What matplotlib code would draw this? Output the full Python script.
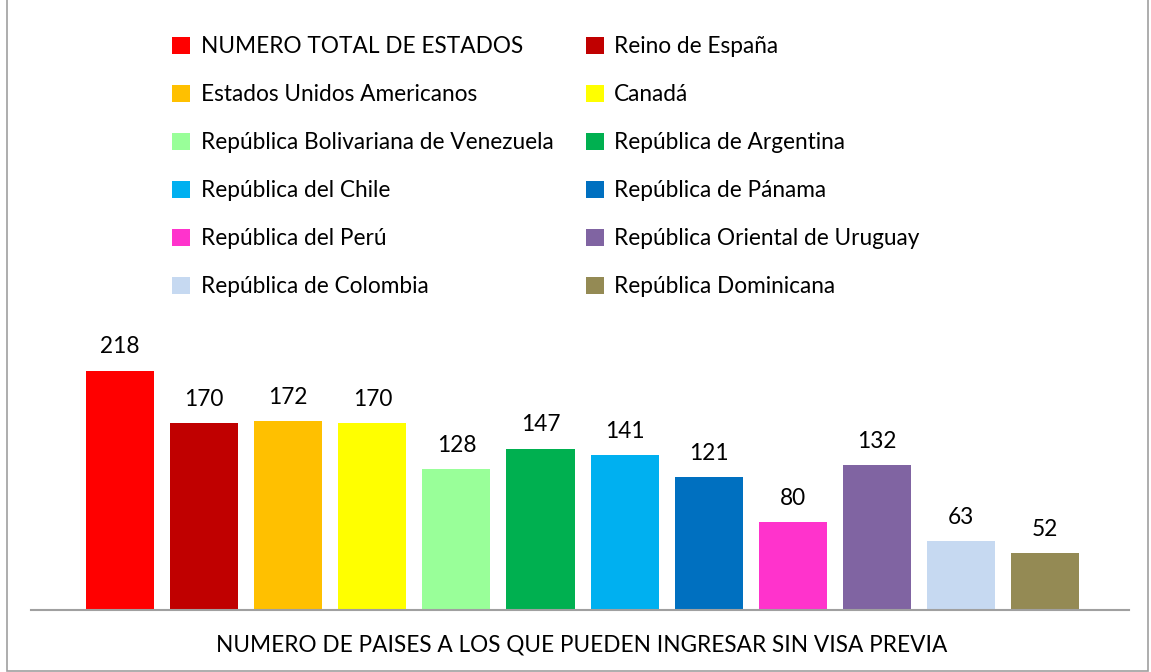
import matplotlib.pyplot as plt
from matplotlib.patches import Rectangle

# datos
paises = ["NUMERO TOTAL DE ESTADOS", "Reino de España",
          "Estados Unidos Americanos", "Canadá",
          "República Bolivariana de Venezuela", "República de Argentina",
          "República del Chile", "República de Pánama",
          "República del Perú", "República Oriental de Uruguay",
          "República de Colombia", "República Dominicana"]
valores = [218, 170, 172, 170, 128, 147, 141, 121, 80, 132, 63, 52]
colores = ["#FF0000", "#C00000", "#FFC000", "#FFFF00", "#99FF99", "#00B050",
           "#00B0F0", "#0070C0", "#FF33CC", "#8064A2", "#C6D9F1", "#948A54"]

plt.rcParams['font.family'] = ['Lato', 'DejaVu Sans']
fs = 16.3

W, H = 1151, 672
fig = plt.figure(figsize=(W / 100, H / 100), dpi=100)
ax = fig.add_axes([31 / W, 1 - 610 / H, (1129 - 31) / W, (610 - 330) / H])

x = list(range(len(valores)))
bars = ax.bar(x, valores, width=0.81, color=colores)
for xi, v in zip(x, valores):
    ax.text(xi, v + 12, str(v), ha='center', va='bottom', fontsize=fs)

ax.set_xlim(-1.06, 12.0)
ax.set_ylim(0, 255)
ax.set_yticks([])
ax.set_xticks([])
for s in ['top', 'right', 'left']:
    ax.spines[s].set_visible(False)
ax.spines['bottom'].set_color('#A0A0A0')
ax.spines['bottom'].set_linewidth(1.5)

# leyenda en dos columnas (orden por filas)
orden = list(range(0, 12, 2)) + list(range(1, 12, 2))
fig.legend([bars[i] for i in orden], [paises[i] for i in orden],
           ncol=2, loc='upper left', bbox_to_anchor=(152 / W, 1 - 16 / H),
           frameon=False, fontsize=fs, handlelength=0.8, handleheight=0.8,
           handletextpad=0.45, labelspacing=1.19, columnspacing=1.44)

fig.text(582 / W, 1 - 645 / H, "NUMERO DE PAISES A LOS QUE PUEDEN INGRESAR SIN VISA PREVIA",
         ha='center', va='center', fontsize=fs)

fig.patches.append(Rectangle((7 / W, 1 / H), (1148 - 7) / W, 1.0, transform=fig.transFigure,
                             fill=False, edgecolor='#A0A0A0', linewidth=1.2))

fig.savefig('out.png', dpi=100)
